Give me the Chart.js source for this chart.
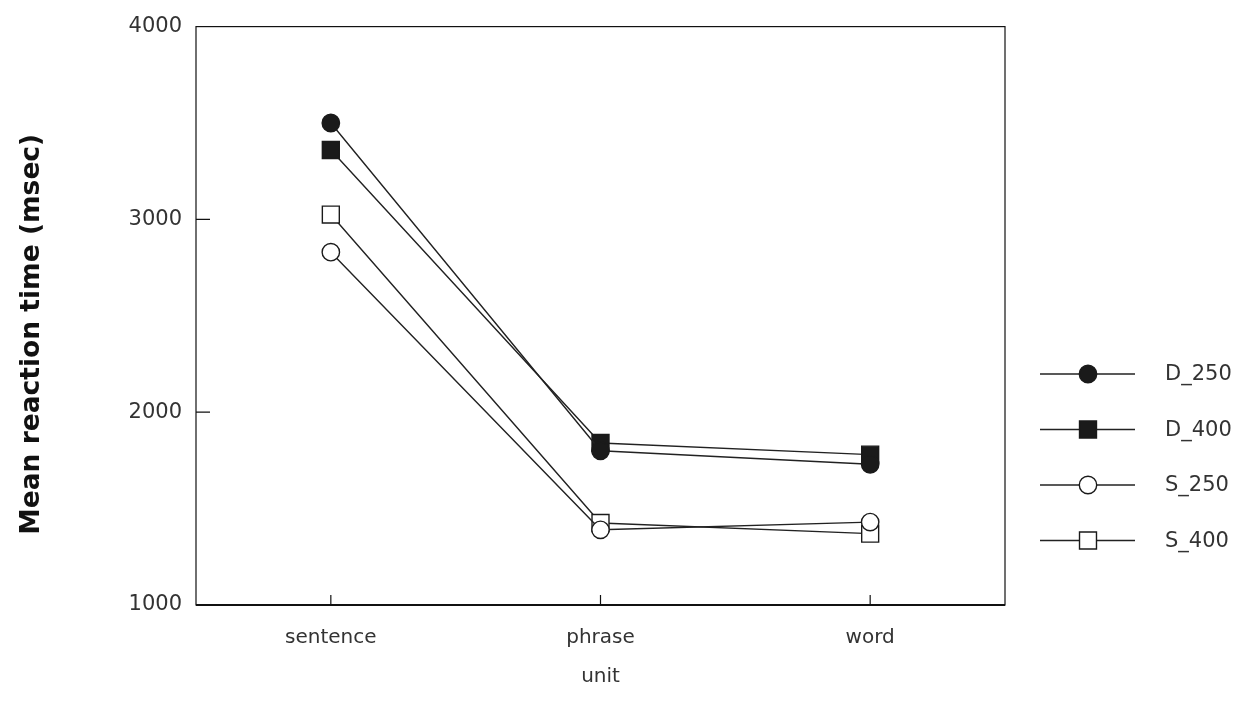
<!DOCTYPE html>
<html>
<head>
<meta charset="utf-8">
<script src="https://cdn.jsdelivr.net/npm/chart.js@4"></script>
<style>
  html, body { margin: 0; padding: 0; background: #fff; }
  #wrap { width: 1243px; height: 719px; }
</style>
</head>
<body>
<div id="wrap"><canvas id="rtChart" width="1243" height="719"></canvas></div>
<script>
var units = ['sentence', 'phrase', 'word'];
var d250 = [3500, 1800, 1730];
var d400 = [3360, 1840, 1780];
var s250 = [2830, 1390, 1430];
var s400 = [3025, 1425, 1370];
var yTicks = [1000, 2000, 3000, 4000];

// box round the plot, inward tick marks and the line+marker legend
var framePlugin = {
    id: 'frame',
    afterDraw: function (chart) {
        var ctx = chart.ctx;
        var a = chart.chartArea;
        var xs = chart.scales.x, ys = chart.scales.y;
        ctx.save();
        ctx.strokeStyle = '#111';
        ctx.lineWidth = 1.2;
        ctx.strokeRect(a.left, a.top, a.right - a.left, a.bottom - a.top);
        ctx.lineWidth = 2;
        ctx.beginPath();
        ctx.moveTo(a.left, a.bottom);
        ctx.lineTo(a.right, a.bottom);
        ctx.stroke();

        ctx.lineWidth = 1.2;
        ctx.beginPath();
        ys.ticks.forEach(function (t, i) {
            var y = ys.getPixelForTick(i);
            if (i === 0 || i === ys.ticks.length - 1) return;
            ctx.moveTo(a.left, y);
            ctx.lineTo(a.left + 14, y);
        });
        xs.ticks.forEach(function (t, i) {
            var x = xs.getPixelForTick(i);
            ctx.moveTo(x, a.bottom);
            ctx.lineTo(x, a.bottom - 10);
        });
        ctx.stroke();

        // legend
        var x0 = 1040, x1 = 1135, xm = 1088, xt = 1165, y = 374, step = 55.5;
        ctx.font = '21px "DejaVu Sans"';
        ctx.textBaseline = 'middle';
        ctx.textAlign = 'left';
        chart.data.datasets.forEach(function (ds) {
            ctx.strokeStyle = '#222';
            ctx.lineWidth = 1.4;
            ctx.beginPath();
            ctx.moveTo(x0, y);
            ctx.lineTo(x1, y);
            ctx.stroke();
            ctx.fillStyle = ds.pointBackgroundColor;
            ctx.strokeStyle = ds.pointBorderColor;
            ctx.lineWidth = ds.pointBorderWidth;
            ctx.beginPath();
            if (ds.pointStyle === 'rect') {
                var s = ds.pointRadius * Math.SQRT1_2;
                ctx.rect(xm - s, y - s, 2 * s, 2 * s);
            } else {
                ctx.arc(xm, y, ds.pointRadius, 0, Math.PI * 2);
            }
            ctx.fill();
            ctx.stroke();
            ctx.fillStyle = '#333';
            ctx.fillText(ds.label, xt, y + 1);
            y += step;
        });
        ctx.restore();
    }
};

function series(label, data, style, filled) {
    return {
        label: label,
        data: data,
        borderColor: '#222',
        borderWidth: 1.4,
        pointStyle: style,
        pointRadius: style === 'rect' ? 12 : 8.7,
        pointHoverRadius: style === 'rect' ? 12 : 8.7,
        pointBackgroundColor: filled ? '#1a1a1a' : '#fff',
        pointBorderColor: '#1a1a1a',
        pointBorderWidth: 1.4,
        fill: false,
        tension: 0
    };
}

Chart.defaults.font.family = '"DejaVu Sans"';
var ctx = document.getElementById('rtChart').getContext('2d');
var rtChart = new Chart(ctx, {
    type: 'line',
    data: {
        labels: units,
        datasets: [
            series('D_250', d250, 'circle', true),
            series('D_400', d400, 'rect', true),
            series('S_250', s250, 'circle', false),
            series('S_400', s400, 'rect', false)
        ]
    },
    options: {
        responsive: false,
        animation: false,
        layout: { padding: { top: 22, right: 238, left: 0, bottom: 0 } },
        plugins: {
            legend: { display: false },
            tooltip: { enabled: false }
        },
        scales: {
            x: {
                offset: true,
                grid: { display: false, drawTicks: false },
                border: { display: false },
                ticks: { color: '#333', font: { size: 20 }, padding: 21 },
                title: {
                    display: true, text: 'unit', color: '#333',
                    font: { size: 20 }, padding: { bottom: 30 }
                },
                afterFit: function (scale) { scale.height = 114; }
            },
            y: {
                min: 1000,
                max: 4000,
                afterBuildTicks: function (scale) {
                    scale.ticks = yTicks.map(function (v) { return { value: v }; });
                },
                grid: { display: false, drawTicks: false },
                border: { display: false },
                ticks: {
                    color: '#333', font: { size: 21 }, padding: 14,
                    callback: function (v) { return String(v); }
                },
                title: {
                    display: true, text: 'Mean reaction time (msec)    ', color: '#111',
                    font: { size: 26.5, weight: 'bold' }, padding: { top: 16 }
                },
                afterFit: function (scale) { scale.width = 196; }
            }
        }
    },
    plugins: [framePlugin]
});
</script>
</body>
</html>
